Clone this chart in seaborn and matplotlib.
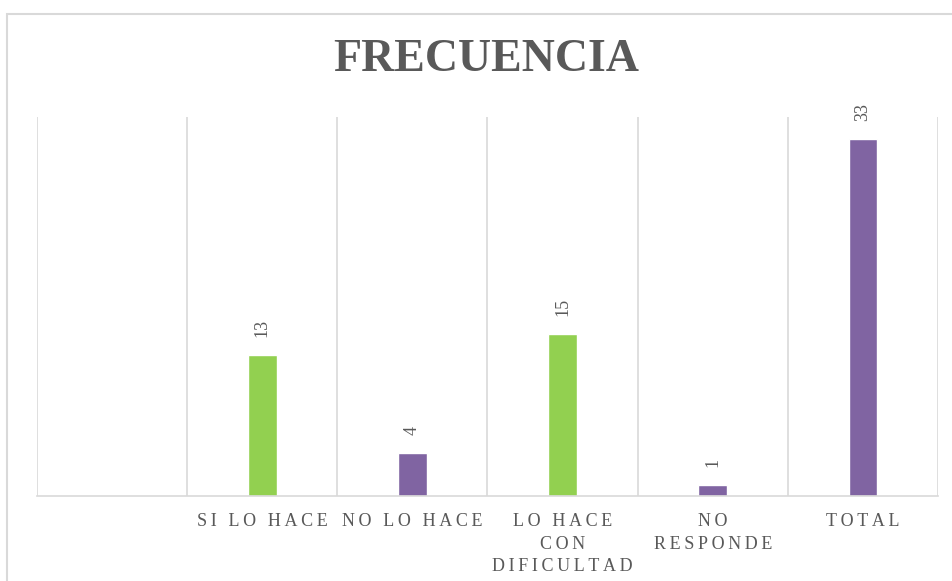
import numpy as np
import pandas as pd
import matplotlib
matplotlib.use('Agg')
import matplotlib.pyplot as plt
import seaborn as sns
from matplotlib.patches import Rectangle

categories = ["", "SI LO HACE", "NO LO HACE", "LO HACE\nCON\nDIFICULTAD", "NO\nRESPONDE", "TOTAL"]
values = [np.nan, 13, 4, 15, 1, 33]
bar_colors = ["#92D050", "#92D050", "#8064A2", "#92D050", "#8064A2", "#8064A2"]
title = "FRECUENCIA"

GRID = "#d9d9d9"
TEXT = "#595959"


def spaced(s, sep="\u2009"):
    # fake letter spacing, line by line
    return "\n".join(sep.join(line) for line in s.split("\n"))


df = pd.DataFrame({"cat": categories, "val": values})

sns.set_theme(style="white")
plt.rcParams['font.family'] = ['Liberation Serif', 'DejaVu Serif']

fig = plt.figure(figsize=(9.53, 5.81), dpi=100)
ax = fig.add_axes([37 / 953, 85 / 581, 901 / 953, 379 / 581])

sns.barplot(data=df, x="cat", y="val", hue="cat", order=categories, hue_order=categories,
            palette=bar_colors, width=0.19, legend=False, saturation=1, ax=ax)

ax.set_ylim(0, 35)
ax.set_xlim(-0.5, len(categories) - 0.5)
ax.set_yticks([])
ax.set_xlabel("")
ax.set_ylabel("")

# category boundary gridlines
ax.set_xticks(np.arange(-0.5, len(categories), 1.0), minor=True)
ax.grid(which="minor", axis="x", color=GRID, linewidth=1.2)
ax.tick_params(which="both", length=0)
ax.set_xticks(range(len(categories)))
ax.set_xticklabels([spaced(c) for c in categories], fontsize=13, color=TEXT,
                   linespacing=1.45, multialignment="center")
ax.tick_params(axis="x", pad=12)

for side in ["top", "left", "right"]:
    ax.spines[side].set_visible(False)
ax.spines["bottom"].set_color(GRID)
ax.spines["bottom"].set_linewidth(1.2)

# value labels, rotated like the original
for i, v in enumerate(values):
    if np.isnan(v):
        continue
    ax.annotate(f"{v:g}", (i, v), xytext=(0, 13), textcoords="offset points",
                rotation=90, ha="center", va="bottom", fontsize=13, color=TEXT)

fig.text(486 / 953, 1 - 60 / 581, title, ha="center", va="center",
         fontsize=33, fontweight="bold", color=TEXT)

# chart area border (runs off the right and bottom edges)
fig.patches.append(Rectangle((7 / 953, -0.2), 1.2, 1.2 - 14 / 581, transform=fig.transFigure,
                             fill=False, edgecolor=GRID, linewidth=1.5, zorder=0))

fig.savefig("out.png", dpi=100, facecolor="white")
plt.close(fig)
